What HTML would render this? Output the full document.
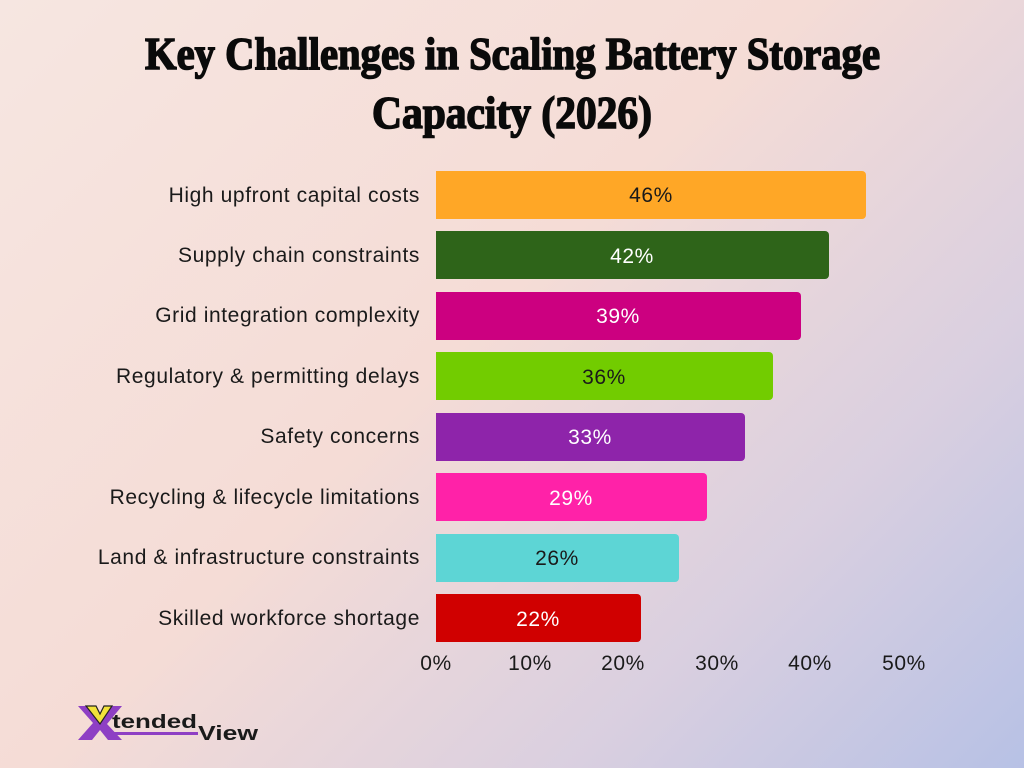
<!DOCTYPE html>
<html><head><meta charset="utf-8"><style>
html,body{margin:0;padding:0}
body{width:1024px;height:768px;overflow:hidden;background:linear-gradient(135deg,#f6e6e1 0%,#f5dcd6 45%,#d9cfe0 75%,#b7c1e5 100%);}
</style></head><body>
<svg width="1024" height="768" xmlns="http://www.w3.org/2000/svg" style="position:absolute;left:0;top:0">
<g font-family="'Liberation Serif',serif" font-weight="bold" fill="#0a0a0a" stroke="#0a0a0a" stroke-width="1.6">
<text x="145" y="69" font-size="46" textLength="735" lengthAdjust="spacingAndGlyphs">Key Challenges in Scaling Battery Storage</text>
<text x="372" y="128" font-size="46" textLength="280" lengthAdjust="spacingAndGlyphs">Capacity (2026)</text>
</g>
<g font-family="'Liberation Sans',sans-serif" font-size="21" letter-spacing="0.6">
<g text-anchor="end" fill="#1a1a1a">
<text x="420" y="202">High upfront capital costs</text>
<text x="420" y="262">Supply chain constraints</text>
<text x="420" y="322">Grid integration complexity</text>
<text x="420" y="383">Regulatory &amp; permitting delays</text>
<text x="420" y="443">Safety concerns</text>
<text x="420" y="504">Recycling &amp; lifecycle limitations</text>
<text x="420" y="564">Land &amp; infrastructure constraints</text>
<text x="420" y="625">Skilled workforce shortage</text>
</g>
<path d="M436 171h426a4 4 0 0 1 4 4v40a4 4 0 0 1-4 4h-426z" fill="#ffa726"/>
<path d="M436 231h389a4 4 0 0 1 4 4v40a4 4 0 0 1-4 4h-389z" fill="#2e6419"/>
<path d="M436 292h361a4 4 0 0 1 4 4v40a4 4 0 0 1-4 4h-361z" fill="#cc0080"/>
<path d="M436 352h333a4 4 0 0 1 4 4v40a4 4 0 0 1-4 4h-333z" fill="#72cc00"/>
<path d="M436 413h305a4 4 0 0 1 4 4v40a4 4 0 0 1-4 4h-305z" fill="#8e24aa"/>
<path d="M436 473h267a4 4 0 0 1 4 4v40a4 4 0 0 1-4 4h-267z" fill="#ff22a8"/>
<path d="M436 534h239a4 4 0 0 1 4 4v40a4 4 0 0 1-4 4h-239z" fill="#5dd5d5"/>
<path d="M436 594h201a4 4 0 0 1 4 4v40a4 4 0 0 1-4 4h-201z" fill="#d00000"/>
<g text-anchor="middle">
<text x="651" y="202" fill="#1a1a1a">46%</text>
<text x="632" y="263" fill="#fff">42%</text>
<text x="618" y="323" fill="#fff">39%</text>
<text x="604" y="384" fill="#1a1a1a">36%</text>
<text x="590" y="444" fill="#fff">33%</text>
<text x="571" y="505" fill="#fff">29%</text>
<text x="557" y="565" fill="#1a1a1a">26%</text>
<text x="538" y="626" fill="#fff">22%</text>
</g>
<g text-anchor="middle" fill="#1a1a1a">
<text x="436" y="670">0%</text>
<text x="530" y="670">10%</text>
<text x="623" y="670">20%</text>
<text x="717" y="670">30%</text>
<text x="810" y="670">40%</text>
<text x="904" y="670">50%</text>
</g>
</g>
<g>
<polygon points="78,706 92,706 101,720 110,706 122,706 107,724 122,740 108,740 100,730 92,740 78,740 93,723" fill="#8e3fc4"/>
<polygon points="86,706 96,706 100,714 104,706 112,706 100,724" fill="#f2e23a" stroke="#222" stroke-width="1.2"/>
<rect x="106" y="732" width="92" height="3" fill="#8e3fc4"/>
<text x="112" y="728" font-family="'Liberation Sans',sans-serif" font-weight="bold" font-size="19" fill="#1a1a1a" textLength="85" lengthAdjust="spacingAndGlyphs">tended</text>
<text x="198" y="740" font-family="'Liberation Sans',sans-serif" font-weight="bold" font-size="20" fill="#1a1a1a" textLength="60" lengthAdjust="spacingAndGlyphs">View</text>
</g>
</svg>
</body></html>
